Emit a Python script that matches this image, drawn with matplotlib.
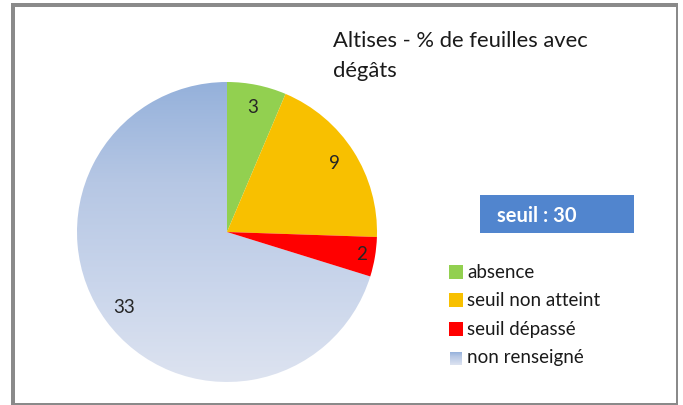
import numpy as np
import matplotlib
matplotlib.use("Agg")
import matplotlib.pyplot as plt
from matplotlib.patches import Rectangle
from matplotlib.colors import LinearSegmentedColormap

# ── data ─────────────────────────────────────────────────────────────────────
categories = ["absence", "seuil non atteint", "seuil dépassé", "non renseigné"]
values = [3, 9, 2, 33]
colours = ["#92D050", "#F8C000", "#FF0000", "#B8C8E4"]
title = "Altises - % de feuilles avec\ndégâts"
seuil_text = "seuil : 30"

W, H = 683, 405
FONT = ["Lato", "DejaVu Sans"]


def fx(x):
    return x / W


def fy(y):
    return 1 - y / H


fig = plt.figure(figsize=(W / 100, H / 100), dpi=100)
fig.patch.set_facecolor("white")

# ── outer frame (grey, thicker on left/top) ──────────────────────────────────
frame_col = "#8A8A8A"
for (x0, y0, x1, y1) in [(11, 3, 15, 405), (11, 3, 678, 6.5),
                         (676, 3, 678, 405), (11, 403, 678, 405)]:
    fig.patches.append(Rectangle((fx(x0), fy(y1)), fx(x1) - fx(x0), fy(y0) - fy(y1),
                                 transform=fig.transFigure, color=frame_col,
                                 lw=0, zorder=0))

# ── pie ──────────────────────────────────────────────────────────────────────
cx, cy, r = 227, 232, 150
ax = fig.add_axes([fx(cx - r), fy(cy + r), 2 * r / W, 2 * r / H])

wedges, texts = ax.pie(values, colors=colours, startangle=90, counterclock=False,
                       radius=1, labels=[str(v) for v in values], labeldistance=0.85,
                       wedgeprops=dict(linewidth=0), frame=False)
for t in texts:
    t.set_fontsize(13.5)
    t.set_family(FONT)
    t.set_color("#262626")
    t.set_ha("center")
    t.set_va("center")
# the small red slice's label sits a little further out
x2, y2 = texts[2].get_position()
texts[2].set_position((x2 * 0.91 / 0.85, y2 * 0.91 / 0.85))

# gradient fill for "non renseigné"
grad_cmap = LinearSegmentedColormap.from_list(
    "blue_grad", ["#DDE3F0", "#C9D5EB", "#B6C7E4", "#95B1DB"])
grad = np.linspace(0, 1, 256).reshape(-1, 1)
blue = wedges[3]
blue.set_facecolor("none")
im = ax.imshow(grad, extent=(-1, 1, -1, 1), origin="lower", cmap=grad_cmap,
               aspect="auto", zorder=0.5)
im.set_clip_path(blue)
ax.set_xlim(-1, 1)
ax.set_ylim(-1, 1)
ax.axis("off")

# ── title ────────────────────────────────────────────────────────────────────
fig.text(fx(333), fy(31), title, ha="left", va="top", fontsize=15.8,
         family=FONT, color="#1A1A1A", linespacing=1.6)

# ── seuil box ────────────────────────────────────────────────────────────────
fig.patches.append(Rectangle((fx(480), fy(233)), fx(634) - fx(480), fy(195) - fy(233),
                             transform=fig.transFigure, color="#5185CE", lw=0))
fig.text(fx(497), fy(216), seuil_text, ha="left", va="center", fontsize=14.5,
         fontweight="bold", family=FONT, color="white")

# ── legend ───────────────────────────────────────────────────────────────────
row_y = [272, 300, 329, 358]
for cat, col, yy in zip(categories, colours, row_y):
    if cat == "non renseigné":
        lax = fig.add_axes([fx(450), fy(yy + 7), 12 / W, 13 / H])
        lax.imshow(grad, extent=(0, 1, 0, 1), origin="lower", cmap=grad_cmap,
                   aspect="auto")
        lax.axis("off")
    else:
        fig.patches.append(Rectangle((fx(449), fy(yy + 7)), 14 / W, 14 / H,
                                     transform=fig.transFigure, color=col, lw=0))
    fig.text(fx(467), fy(yy), cat, ha="left", va="center", fontsize=13.5,
             family=FONT, color="#1A1A1A")

fig.savefig("out.png", dpi=100)
